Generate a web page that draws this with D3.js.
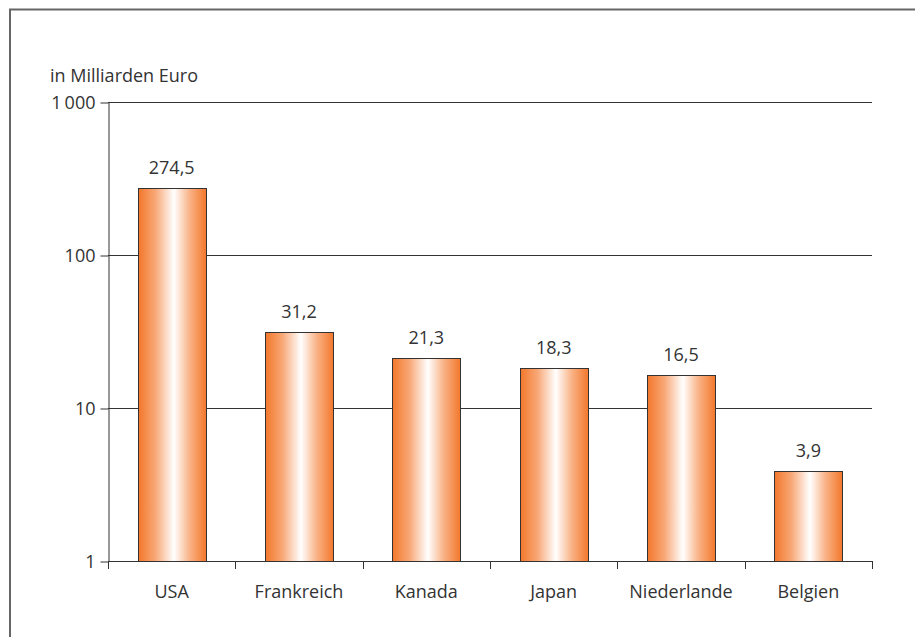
<!DOCTYPE html>
<html>
<head>
<meta charset="utf-8">
<script src="https://cdn.jsdelivr.net/npm/d3@7"></script>
<style>
  body { margin: 0; background: #fff; }
  svg text { font-family: "Open Sans", sans-serif; fill: #333; }
</style>
</head>
<body>
<div class="d3-wrapper"></div>
<script>
const countries = ['USA', 'Frankreich', 'Kanada', 'Japan', 'Niederlande', 'Belgien'];
const values = [274.5, 31.2, 21.3, 18.3, 16.5, 3.9];
const yTicks = [1, 10, 100, 1000];
const yTickLabels = ['1', '10', '100', '1\u2009000'];
const unitLabel = 'in Milliarden Euro';

const OUTER_WIDTH = 915, OUTER_HEIGHT = 637;
const PLOT = { left: 108, right: 872, top: 102, bottom: 561 };
const FONT_SIZE = '18px';

const svg = d3.select('.d3-wrapper').append('svg')
  .attr('width', OUTER_WIDTH)
  .attr('height', OUTER_HEIGHT);

// bar gradient: orange -> white -> orange
const grad = svg.append('defs').append('linearGradient')
  .attr('id', 'barGrad')
  .attr('x1', '0%').attr('x2', '100%').attr('y1', '0%').attr('y2', '0%');
[[0, '#f3772b'], [0.25, '#f8a877'], [0.52, '#ffffff'], [0.75, '#f9b387'], [1, '#f3772b']]
  .forEach(([o, c]) => grad.append('stop').attr('offset', o).attr('stop-color', c));

// frame (only left and top visible)
svg.append('path')
  .attr('d', `M10,${OUTER_HEIGHT} L10,9.5 L${OUTER_WIDTH},9.5`)
  .attr('fill', 'none')
  .attr('stroke', '#666')
  .attr('stroke-width', 2);

const xScale = d3.scaleBand()
  .domain(countries)
  .range([PLOT.left, PLOT.right])
  .paddingInner(0.465)
  .paddingOuter(0.2325);

const yScale = d3.scaleLog()
  .domain([1, 1000])
  .range([PLOT.bottom, PLOT.top]);

// gridlines
svg.append('g')
  .selectAll('line')
  .data(yTicks.slice(1))
  .join('line')
  .attr('x1', PLOT.left).attr('x2', PLOT.right)
  .attr('y1', d => Math.round(yScale(d)) + 0.5)
  .attr('y2', d => Math.round(yScale(d)) + 0.5)
  .attr('stroke', '#333')
  .attr('stroke-width', 1);

// y axis
const yAxis = d3.axisLeft(yScale)
  .tickValues(yTicks)
  .tickFormat((d, i) => yTickLabels[i])
  .tickSizeInner(8)
  .tickSizeOuter(0)
  .tickPadding(5);

const yG = svg.append('g')
  .attr('transform', `translate(${PLOT.left + 0.5},0.5)`)
  .call(yAxis);
yG.selectAll('line, path').attr('stroke', '#333');
yG.selectAll('text').style('font-size', FONT_SIZE).attr('fill', '#333');

// bars
svg.append('g')
  .selectAll('rect')
  .data(values)
  .join('rect')
  .attr('x', (d, i) => Math.round(xScale(countries[i])) + 0.5)
  .attr('y', d => Math.round(yScale(d)) + 0.5)
  .attr('width', Math.round(xScale.bandwidth()))
  .attr('height', d => Math.round(yScale(1)) - Math.round(yScale(d)))
  .attr('fill', 'url(#barGrad)')
  .attr('stroke', '#333')
  .attr('stroke-width', 1);

// value labels
svg.append('g')
  .selectAll('text')
  .data(values)
  .join('text')
  .attr('x', (d, i) => xScale(countries[i]) + xScale.bandwidth() / 2)
  .attr('y', d => yScale(d) - 14)
  .attr('text-anchor', 'middle')
  .style('font-size', FONT_SIZE)
  .text(d => d.toFixed(1).replace('.', ','));

// x axis
const xAxis = d3.axisBottom(xScale)
  .tickSize(0)
  .tickPadding(24);

const xG = svg.append('g')
  .attr('transform', `translate(0,${Math.round(PLOT.bottom) + 0.5})`)
  .call(xAxis);
xG.select('.domain').attr('stroke', '#333').attr('d', `M${PLOT.left},0H${PLOT.right}`);
xG.selectAll('text').style('font-size', FONT_SIZE).attr('fill', '#333');

// category separators
const step = xScale.step();
svg.append('g')
  .selectAll('line')
  .data(d3.range(countries.length + 1))
  .join('line')
  .attr('x1', i => Math.round(PLOT.left + i * step) + 0.5)
  .attr('x2', i => Math.round(PLOT.left + i * step) + 0.5)
  .attr('y1', PLOT.bottom)
  .attr('y2', PLOT.bottom + 8)
  .attr('stroke', '#333');

svg.append('text')
  .attr('x', 50)
  .attr('y', 82)
  .style('font-size', FONT_SIZE)
  .text(unitLabel);
</script>
</body>
</html>
